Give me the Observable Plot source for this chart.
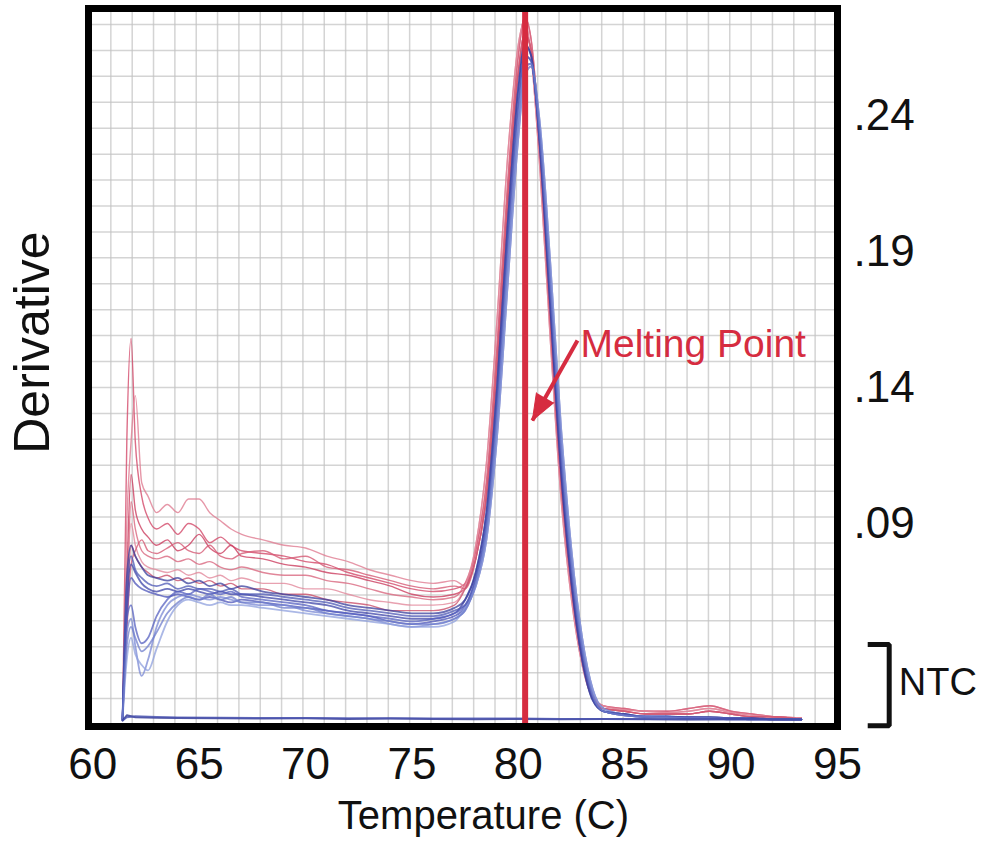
<!DOCTYPE html>
<html>
<head>
<meta charset="utf-8">
<script src="https://cdn.jsdelivr.net/npm/d3@7"></script>
<script src="https://cdn.jsdelivr.net/npm/@observablehq/plot@0.6"></script>
<style>
  html, body { margin: 0; padding: 0; background: #fff; }
  #chart svg { display: block; }
</style>
</head>
<body>
<div id="chart"></div>
<script>
// ---------- data ----------
const tempsLow  = [61.4, 61.6, 61.8, 62.0, 62.3, 62.6, 63.0, 63.5, 64.0, 64.5, 65.0, 65.5, 66.0, 66.5, 67.0, 68.0, 69.0, 70.0, 71.0, 72.0, 73.0, 74.0, 75.0, 76.0, 77.0];
const tempsPeak = [77.5, 78, 78.5, 79, 79.5, 80, 80.3, 80.6, 81, 81.5, 82, 82.5, 83, 83.5, 84, 85, 86, 87, 88, 89, 90, 91, 92, 93.3];
const tempsNTC  = [61.4, 61.6, 62, 63, 64, 66, 68, 70, 72, 74, 76, 78, 80, 82, 84, 86, 88, 90, 92, 93.3];

// low-temperature part of each sample curve
const redLow1 = [0.018, 0.120, 0.158, 0.120, 0.100, 0.092, 0.088, 0.090, 0.086, 0.090, 0.088, 0.083, 0.085, 0.082, 0.080, 0.079, 0.078, 0.076, 0.075, 0.072, 0.070, 0.068, 0.066, 0.065, 0.066];
const redLow2 = [0.018, 0.090, 0.120, 0.137, 0.105, 0.100, 0.094, 0.097, 0.094, 0.099, 0.099, 0.094, 0.091, 0.088, 0.086, 0.084, 0.082, 0.081, 0.078, 0.076, 0.073, 0.071, 0.069, 0.068, 0.069];
const redLow3 = [0.018, 0.070, 0.108, 0.095, 0.088, 0.085, 0.082, 0.084, 0.080, 0.082, 0.086, 0.081, 0.079, 0.082, 0.078, 0.077, 0.075, 0.074, 0.072, 0.071, 0.069, 0.067, 0.064, 0.063, 0.064];
const redLow4 = [0.018, 0.060, 0.098, 0.088, 0.080, 0.078, 0.077, 0.078, 0.076, 0.077, 0.075, 0.076, 0.074, 0.073, 0.074, 0.072, 0.071, 0.071, 0.069, 0.068, 0.066, 0.064, 0.063, 0.062, 0.063];
const redLow5 = [0.018, 0.065, 0.090, 0.082, 0.076, 0.074, 0.073, 0.072, 0.073, 0.071, 0.072, 0.070, 0.071, 0.069, 0.070, 0.068, 0.068, 0.066, 0.066, 0.064, 0.062, 0.061, 0.060, 0.060, 0.061];
const redLow6 = [0.018, 0.055, 0.082, 0.078, 0.074, 0.072, 0.070, 0.071, 0.069, 0.070, 0.068, 0.069, 0.067, 0.068, 0.066, 0.066, 0.064, 0.064, 0.062, 0.061, 0.060, 0.058, 0.058, 0.058, 0.060];
const redLow7 = [0.018, 0.050, 0.075, 0.080, 0.084, 0.080, 0.079, 0.081, 0.083, 0.080, 0.079, 0.082, 0.078, 0.077, 0.079, 0.080, 0.077, 0.078, 0.074, 0.073, 0.071, 0.069, 0.067, 0.066, 0.067];

const blueLow1 = [0.018, 0.060, 0.075, 0.072, 0.068, 0.066, 0.065, 0.066, 0.065, 0.066, 0.065, 0.064, 0.065, 0.064, 0.064, 0.063, 0.062, 0.061, 0.060, 0.058, 0.057, 0.056, 0.055, 0.055, 0.057];
const blueLow2 = [0.018, 0.055, 0.070, 0.068, 0.066, 0.065, 0.064, 0.063, 0.064, 0.063, 0.062, 0.063, 0.062, 0.061, 0.062, 0.061, 0.060, 0.059, 0.058, 0.057, 0.056, 0.054, 0.053, 0.054, 0.056];
const blueLow3 = [0.018, 0.050, 0.055, 0.045, 0.034, 0.040, 0.052, 0.060, 0.063, 0.064, 0.063, 0.062, 0.063, 0.062, 0.061, 0.060, 0.060, 0.058, 0.057, 0.056, 0.055, 0.053, 0.052, 0.053, 0.055];
const blueLow4 = [0.018, 0.055, 0.060, 0.052, 0.046, 0.048, 0.056, 0.062, 0.065, 0.064, 0.066, 0.065, 0.064, 0.065, 0.063, 0.062, 0.061, 0.060, 0.058, 0.057, 0.056, 0.055, 0.054, 0.055, 0.057];
const blueLow5 = [0.018, 0.040, 0.048, 0.042, 0.038, 0.036, 0.044, 0.054, 0.060, 0.062, 0.061, 0.060, 0.061, 0.060, 0.060, 0.059, 0.058, 0.057, 0.056, 0.055, 0.054, 0.053, 0.052, 0.052, 0.054];
const blueLow6 = [0.018, 0.070, 0.082, 0.078, 0.074, 0.071, 0.070, 0.069, 0.070, 0.068, 0.069, 0.067, 0.068, 0.066, 0.067, 0.065, 0.064, 0.063, 0.062, 0.060, 0.059, 0.058, 0.057, 0.057, 0.059];
const blueLow7 = [0.018, 0.065, 0.078, 0.073, 0.070, 0.068, 0.067, 0.068, 0.066, 0.067, 0.066, 0.066, 0.065, 0.066, 0.064, 0.064, 0.063, 0.062, 0.061, 0.059, 0.058, 0.057, 0.056, 0.056, 0.058];
const blueLow8 = [0.018, 0.045, 0.052, 0.048, 0.043, 0.045, 0.050, 0.057, 0.061, 0.063, 0.062, 0.064, 0.062, 0.063, 0.061, 0.061, 0.059, 0.059, 0.057, 0.056, 0.055, 0.054, 0.053, 0.053, 0.055];

// melt-peak part, as seen in the dense band
const peakRed1  = [0.068, 0.080, 0.105, 0.155, 0.215, 0.262, 0.276, 0.268, 0.232, 0.168, 0.108, 0.068, 0.041, 0.027, 0.023, 0.022, 0.021, 0.021, 0.022, 0.023, 0.021, 0.020, 0.019, 0.0185];
const peakRed2  = [0.066, 0.077, 0.100, 0.148, 0.208, 0.256, 0.270, 0.264, 0.228, 0.165, 0.106, 0.066, 0.040, 0.026, 0.022, 0.021, 0.020, 0.020, 0.020, 0.021, 0.020, 0.019, 0.019, 0.018];
const peakRed3  = [0.067, 0.082, 0.112, 0.165, 0.225, 0.266, 0.275, 0.262, 0.222, 0.158, 0.100, 0.062, 0.038, 0.026, 0.023, 0.0215, 0.021, 0.0205, 0.021, 0.022, 0.0205, 0.0195, 0.019, 0.0185];
const peakBlue1 = [0.062, 0.072, 0.094, 0.140, 0.200, 0.250, 0.266, 0.262, 0.230, 0.170, 0.110, 0.068, 0.040, 0.025, 0.021, 0.020, 0.019, 0.019, 0.0188, 0.0188, 0.0185, 0.0185, 0.018, 0.018];
const peakBlue2 = [0.060, 0.070, 0.090, 0.134, 0.193, 0.244, 0.262, 0.260, 0.232, 0.175, 0.115, 0.072, 0.043, 0.026, 0.021, 0.0195, 0.019, 0.019, 0.0185, 0.0185, 0.0185, 0.018, 0.018, 0.018];
const peakBlue3 = [0.058, 0.068, 0.087, 0.128, 0.186, 0.238, 0.258, 0.259, 0.235, 0.180, 0.120, 0.076, 0.045, 0.027, 0.021, 0.0195, 0.019, 0.0188, 0.0185, 0.0185, 0.018, 0.018, 0.018, 0.018];
const peakBlue4 = [0.059, 0.067, 0.084, 0.122, 0.178, 0.232, 0.254, 0.258, 0.238, 0.186, 0.126, 0.080, 0.048, 0.029, 0.022, 0.0198, 0.019, 0.019, 0.0187, 0.0186, 0.0184, 0.0182, 0.0181, 0.018];

// no-template controls (flat)
const ntc1 = [0.0176, 0.0195, 0.0188, 0.0186, 0.0185, 0.0184, 0.0183, 0.0184, 0.0182, 0.0183, 0.0182, 0.0181, 0.0182, 0.0181, 0.0182, 0.0181, 0.0180, 0.0181, 0.0180, 0.0180];
const ntc2 = [0.0176, 0.0188, 0.0192, 0.0189, 0.0187, 0.0186, 0.0185, 0.0185, 0.0184, 0.0184, 0.0183, 0.0183, 0.0183, 0.0182, 0.0182, 0.0182, 0.0181, 0.0181, 0.0181, 0.0180];

const redSamples  = [["R1", redLow1, peakRed1], ["R2", redLow2, peakRed3], ["R3", redLow3, peakRed2], ["R4", redLow4, peakRed1], ["R5", redLow5, peakRed3], ["R6", redLow6, peakRed2], ["R7", redLow7, peakRed2]];
const blueSamples = [["B1", blueLow1, peakBlue1], ["B2", blueLow2, peakBlue4], ["B3", blueLow3, peakBlue3], ["B4", blueLow4, peakBlue2], ["B5", blueLow5, peakBlue4], ["B6", blueLow6, peakBlue1], ["B7", blueLow7, peakBlue2], ["B8", blueLow8, peakBlue3]];
const ntcSamples  = [["N1", ntc1], ["N2", ntc2]];

const meltingPoint = 80.32;
const xTicks = [60, 65, 70, 75, 80, 85, 90, 95];
const yTicks = [0.09, 0.14, 0.19, 0.24];
const annotationText = "Melting Point";
const xLabel = "Temperature (C)";
const yLabel = "Derivative";
const ntcLabel = "NTC";

// ---------- styling ----------
const lineColor = {
  R1: "#d34a6a", R2: "#e07d92", R3: "#cc3f60", R4: "#d9687f", R5: "#e28a9c", R6: "#c9506c", R7: "#d65b75",
  B1: "#3d44a8", B2: "#4b53b8", B3: "#7a88d4", B4: "#5560c0", B5: "#8fa0dd", B6: "#3a3f9c", B7: "#4e58b5", B8: "#6f7dcc",
  N1: "#2f3590", N2: "#4a54b0"
};
const RED = "#d62c40";
const FONT = "'Liberation Sans', Arial, Helvetica, sans-serif";

// ---------- tidy rows ----------
function sampleRows(list) {
  const rows = [];
  for (const [id, low, peak] of list) {
    tempsLow.forEach((t, i) => rows.push({id, t, v: low[i]}));
    tempsPeak.forEach((t, i) => rows.push({id, t, v: peak[i]}));
  }
  return rows;
}
const redRows = sampleRows(redSamples);
const blueRows = sampleRows(blueSamples);
const ntcRows = [];
for (const [id, vals] of ntcSamples) tempsNTC.forEach((t, i) => ntcRows.push({id, t, v: vals[i]}));

// grid lines of the instrument plot (1 °C columns, fine rows)
const gridX = d3.range(60.85, 95, 1.003);
const gridY = d3.range(0.02566, 0.279, 0.009529);

// annotation anchors in data units
const arrowFrom = {t: 82.78, v: 0.1573};
const arrowTo = {t: 80.66, v: 0.1279};
const labelPos = {t: 82.92, v: 0.1558};
const bracket = [{t: 96.42, v: 0.0455}, {t: 97.43, v: 0.0455}, {t: 97.43, v: 0.0157}, {t: 96.42, v: 0.0157}];

const chart = Plot.plot({
  width: 987,
  height: 844,
  marginLeft: 88,
  marginRight: 150,
  marginTop: 8,
  marginBottom: 118,
  x: {domain: [59.8, 95]},
  y: {domain: [0.0154, 0.2793]},
  style: {fontFamily: FONT, background: "white", overflow: "visible"},
  marks: [
    Plot.ruleX(gridX, {stroke: "#c2c2c2", strokeWidth: 1.5, strokeOpacity: 0.7}),
    Plot.ruleY(gridY, {stroke: "#c2c2c2", strokeWidth: 1.5, strokeOpacity: 0.7}),
    Plot.line(redRows, {x: "t", y: "v", z: "id", stroke: d => lineColor[d.id], strokeWidth: 1.4, strokeOpacity: 0.8, curve: "monotone-x"}),
    Plot.line(blueRows, {x: "t", y: "v", z: "id", stroke: d => lineColor[d.id], strokeWidth: 1.8, strokeOpacity: 0.75, curve: "monotone-x"}),
    Plot.line(ntcRows, {x: "t", y: "v", z: "id", stroke: d => lineColor[d.id], strokeWidth: 2, strokeOpacity: 0.8}),
    Plot.ruleX([meltingPoint], {stroke: RED, strokeWidth: 6}),
    Plot.link([arrowFrom], {x1: "t", y1: "v", x2: () => arrowTo.t, y2: () => arrowTo.v, stroke: RED, strokeWidth: 4}),
    Plot.vector([arrowTo], {x: "t", y: "v", shape: "spike", anchor: "end", length: 26, r: 10, rotate: 209.4, stroke: RED, fill: RED, strokeWidth: 1}),
    Plot.text([annotationText], {x: labelPos.t, y: labelPos.v, text: d => d, fill: RED, fontSize: 39, textAnchor: "start", lineAnchor: "middle"}),
    Plot.axisX(xTicks, {tickSize: 0, tickPadding: 21, fontSize: 44, fill: "#111", label: null}),
    Plot.axisY(yTicks, {anchor: "right", tickSize: 0, tickPadding: 16, fontSize: 44, fill: "#111", label: null, tickFormat: d => d3.format(".2f")(d).replace(/^0/, "")}),
    Plot.text([xLabel], {x: 78.36, y: -0.0174, text: d => d, fontSize: 40, fill: "#111", textAnchor: "middle", lineAnchor: "middle"}),
    Plot.text([yLabel], {x: 57.19, y: 0.1565, text: d => d, fontSize: 50, fill: "#111", rotate: -90, textAnchor: "middle", lineAnchor: "middle"}),
    Plot.line(bracket, {x: "t", y: "v", stroke: "#111", strokeWidth: 5, strokeLinejoin: "miter", strokeLinecap: "butt"}),
    Plot.text([ntcLabel], {x: 97.88, y: 0.0315, text: d => d, fontSize: 38, fill: "#111", textAnchor: "start", lineAnchor: "middle"}),
    Plot.frame({stroke: "#000", strokeWidth: 7})
  ]
});
document.getElementById("chart").appendChild(chart);
</script>
</body>
</html>
